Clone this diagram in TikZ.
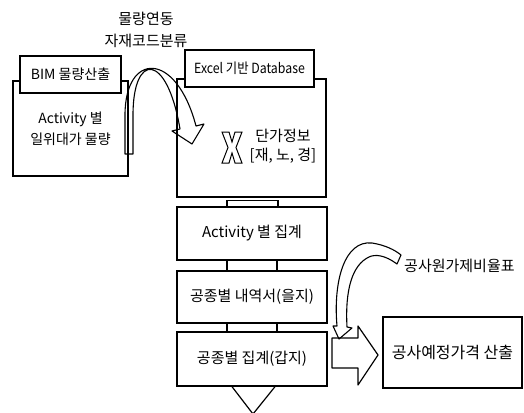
\documentclass[tikz,border=0pt]{standalone}
\usepackage{fontspec}
\setmainfont{Noto Sans CJK KR}
\begin{document}
\begin{tikzpicture}[x=1pt,y=-1pt,
  box/.style={draw, line width=1.3pt, fill=white, inner sep=0pt, align=center,
              font=\fontsize{14}{21}\selectfont},
  flowbox/.style={box, minimum width=150pt, font=\fontsize{15}{17}\selectfont},
  lbl/.style={inner sep=0pt, align=center, font=\fontsize{15}{22}\selectfont},
  ribbon/.style={draw, line width=1.1pt, line join=round},
  link/.style={draw, line width=1.2pt},
]
\useasboundingbox (0,0) rectangle (524,412);

% left pair: quantity take-off
\node[box, minimum width=115pt, minimum height=95pt] (qty) at (70.5,128.5)
  {Activity 별\\일위대가 물량};
\node[box, minimum width=101pt, minimum height=37pt] (bim) at (70.5,74.5)
  {BIM 물량산출};

% right pair: unit price database
\node[box, minimum width=149pt, minimum height=118pt] (db) at (251.5,138) {};
\node[box, minimum width=129pt, minimum height=37pt]
  (excel) at (249.5,68.5) {\scalebox{0.88}[1]{\fontsize{14}{16}\selectfont Excel 기반 Database}};
\node[lbl, font=\fontsize{15}{19}\selectfont] (price) at (283,146) {단가정보\\{[}재, 노, 경{]}};

% hollow cross mark
\draw[line width=1pt, line join=miter]
  (222,132) -- (229,132) -- (232,142) -- (235,132) -- (242,132) -- (236,147.5)
  -- (242,163) -- (235,163) -- (232,153) -- (229,163) -- (222,163) -- (228,147.5) -- cycle;

% link label
\node[lbl] (linklbl) at (146,30) {물량연동\\자재코드분류};

% curved block arrow from take-off to database
\draw[ribbon]
  (125,154) -- (125,115) .. controls (125,52) and (176,50) .. (196,126)
  -- (204,124) -- (192,144) -- (172,131) -- (180,129)
  .. controls (167,52) and (133,52) .. (133,115) -- (133,154) -- cycle;

% summary chain
\node[flowbox, minimum height=53pt] (act) at (252,233.5) {Activity 별 집계};
\node[flowbox, minimum height=52pt] (detail) at (252,297) {공종별 내역서(을지)};
\node[flowbox, minimum height=54pt] (total) at (252,359) {공종별 집계(갑지)};

% joints between the stacked boxes
\draw[link] ([xshift=-25pt]act.north) rectangle ([xshift=26pt,yshift=6pt]act.north);
\draw[link] ([xshift=-25pt]act.south) -- ([xshift=-25pt]act.south |- detail.north);
\draw[link] ([xshift=25pt]act.south) -- ([xshift=25pt]act.south |- detail.north);
\draw[link] ([xshift=-25pt]detail.south) -- ([xshift=-25pt]detail.south |- total.north);
\draw[link] ([xshift=25pt]detail.south) -- ([xshift=25pt]detail.south |- total.north);

% open wedge under the last box
\coordinate (vtip) at (253,414);
\draw[link] ([xshift=-20pt]total.south) -- (vtip) -- ([xshift=23pt]total.south);

% estimated price result
\node[box, minimum width=139pt, minimum height=71pt, font=\fontsize{16}{19}\selectfont]
  (est) at (452.5,352.5) {공사예정가격 산출};

% block arrow into the result
\draw[ribbon, line width=1.2pt]
  (332,338) -- (358,338) -- (358,326) -- (378,355) -- (358,385) -- (358,368) -- (332,368) -- cycle;

% rate table label and its curved arrow
\node[lbl, anchor=west] (rate) at (404,266) {공사원가제비율표};
\draw[ribbon]
  (333,326) -- (337,326) .. controls (333,280) and (345,240) .. (372,243)
  .. controls (385,245) and (395,250) .. (401,255) -- (397,264)
  .. controls (385,255) and (375,254) .. (369,257)
  .. controls (352,265) and (345,290) .. (347,327)
  -- (352,328) -- (339,339) -- cycle;
\end{tikzpicture}
\end{document}
